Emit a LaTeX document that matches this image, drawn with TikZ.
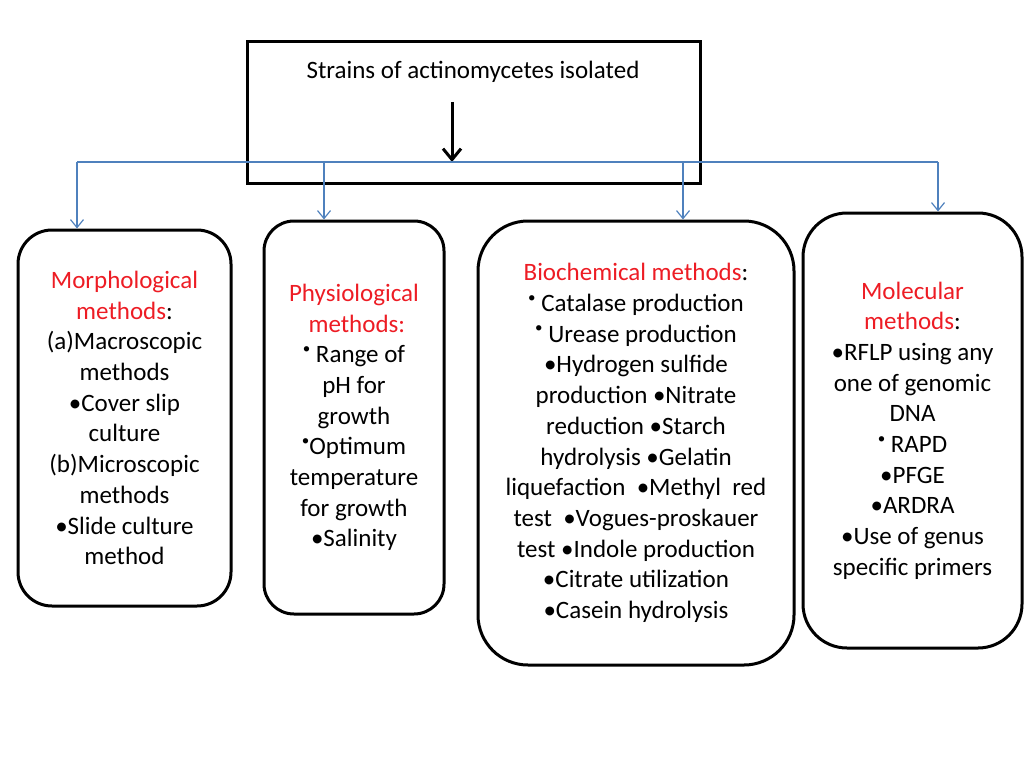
\documentclass[tikz,border=0pt]{standalone}
\usepackage{fontspec}
\setmainfont{Carlito}
\usetikzlibrary{arrows.meta}
\definecolor{headred}{RGB}{237,28,36}
\definecolor{linkblue}{RGB}{79,129,189}
\newcommand{\upbul}{\raisebox{0.38em}{\fontsize{15}{15}\selectfont•}}

\begin{document}
\begin{tikzpicture}
            [x=1pt, y=-1pt,
             methodbox/.style={draw=black, line width=3pt, rounded corners=34pt, align=center, inner sep=0pt, font=\fontsize{25}{30.7}\selectfont},
             linkline/.style={draw=linkblue, line width=1.2pt},
             linkarrow/.style={linkline, -{Straight Barb[length=8pt,width=13pt,line width=1.2pt]}}]
            \useasboundingbox (0,0) rectangle (1024,768);
            \node[draw=black, line width=3pt, minimum width=453pt, minimum height=141pt] (strains) at (473.5,112.5) {};
            \node[inner sep=0pt, font=\fontsize{25}{30.7}\selectfont] (title) at (473,72) {Strains of actinomycetes isolated};

            \node[methodbox, minimum width=213pt, minimum height=376pt] (morph) at (124.5,418)
                {\textcolor{headred}{Morphological}\\ \textcolor{headred}{methods}:\\ (a)Macroscopic\\ methods\\ •Cover slip\\ culture\\ (b)Microscopic\\ methods\\ •Slide culture\\ method};
            \node[methodbox, rounded corners=30pt, minimum width=180pt, minimum height=393pt] (physio) at (354,417.5)
                {\textcolor{headred}{Physiological}\\ \textcolor{headred}{\ methods:}\\ \upbul\ Range of\\ pH for\\ growth\\ \upbul Optimum\\ temperature\\ for growth\\ •Salinity};
            \node[methodbox, rounded corners=50pt, minimum width=316pt, minimum height=444pt] (biochem) at (636,443)
                {\textcolor{headred}{Biochemical methods}:\\ \upbul\ Catalase production\\ \upbul\ Urease production\\ •Hydrogen sulfide\\ production •Nitrate\\ reduction •Starch\\ hydrolysis •Gelatin\\ liquefaction \ •Methyl \ red\\ test \ •Vogues-proskauer\\ test •Indole production\\ •Citrate utilization\\ •Casein hydrolysis};
            \node[methodbox, rounded corners=44pt, minimum width=219pt, minimum height=435pt] (molec) at (912.5,430.5)
                {\textcolor{headred}{Molecular}\\ \textcolor{headred}{methods}:\\ •RFLP using any\\ one of genomic\\ DNA\\ \upbul\ RAPD\\ •PFGE\\ •ARDRA\\ •Use of genus\\ specific primers};

            \coordinate (hub) at (452,162);
            \coordinate (j1) at (77,162);
            \coordinate (j2) at (324,162);
            \coordinate (j3) at (683,162);
            \coordinate (j4) at (938,162);

            \path [draw=black, line width=3pt, shorten <=19pt, -{Straight Barb[length=11pt,width=18pt,line width=3pt]}] (title.south -| hub) -- (hub);
            \path [linkline] (j1) -- (j4);
            \path [linkarrow] (j1) -- (j1 |- morph.north);
            \path [linkarrow] (j2) -- (j2 |- physio.north);
            \path [linkarrow] (j3) -- (j3 |- biochem.north);
            \path [linkarrow] (j4) -- (j4 |- molec.north);
        \end{tikzpicture}
\end{document}
